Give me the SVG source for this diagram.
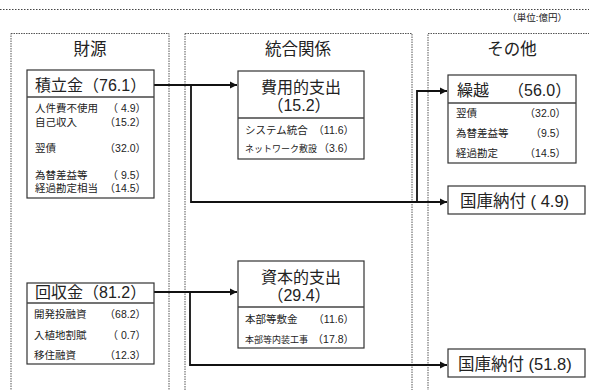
<svg xmlns="http://www.w3.org/2000/svg" width="589" height="390" viewBox="0 0 589 390">
<defs>
<style>
text{font-family:"Liberation Sans","Noto Sans CJK JP",sans-serif;fill:#222}
.col{fill:none;stroke:#555;stroke-width:1;stroke-dasharray:1.5 1}
.box{fill:#fff;stroke:#333;stroke-width:1.2}
.div{stroke:#444;stroke-width:1.5}
.hd{font-size:16.5px;text-anchor:middle}
.tt{font-size:16px}
.kk{font-size:16.5px}
.it{font-size:10.5px}
.sm{font-size:9px}
.v{text-anchor:end}
.c{text-anchor:middle}
.con{fill:none;stroke:#111;stroke-width:1.8}
</style>
<marker id="ah" markerUnits="userSpaceOnUse" markerWidth="8" markerHeight="8" refX="7" refY="4" orient="auto">
<path d="M0,0.5 L7,4 L0,7.5 Z" fill="#111"/>
</marker>
</defs>
<rect width="589" height="390" fill="#fff"/>
<line x1="0" y1="9.5" x2="589" y2="9.5" stroke="#444" stroke-width="1.2" stroke-dasharray="1.5 1.5"/>
<text x="567" y="21" class="it v" style="font-size:9.5px">（単位:億円）</text>

<g id="columns">
<rect class="col" x="11" y="33.5" width="158" height="370"/>
<rect class="col" x="185" y="33.5" width="227" height="370"/>
<rect class="col" x="428" y="33.5" width="180" height="370"/>
<text x="90" y="55" class="hd">財源</text>
<text x="298" y="55" class="hd">統合関係</text>
<text x="512" y="55" class="hd">その他</text>
</g>

<g id="connectors">
<path class="con" d="M154,85 H237" marker-end="url(#ah)"/>
<path class="con" d="M191,85 V202 H447" marker-end="url(#ah)"/>
<path class="con" d="M417,202 V91 H447" marker-end="url(#ah)"/>
<path class="con" d="M154,292 H237" marker-end="url(#ah)"/>
<path class="con" d="M190,292 V365 H447" marker-end="url(#ah)"/>
</g>

<g id="tsumitatekin">
<rect class="box" x="27" y="70" width="127" height="128"/>
<line class="div" x1="27" y1="97" x2="154" y2="97"/>
<text x="35" y="91" class="tt">積立金（76.1）</text>
<text x="35" y="112" class="it">人件費不使用</text><text x="146" y="112" class="it v">（ 4.9）</text>
<text x="35" y="126" class="it">自己収入</text><text x="146" y="126" class="it v">（15.2）</text>
<text x="35" y="152" class="it">翌債</text><text x="146" y="152" class="it v">（32.0）</text>
<text x="35" y="179" class="it">為替差益等</text><text x="146" y="179" class="it v">（ 9.5）</text>
<text x="35" y="192" class="it">経過勘定相当</text><text x="146" y="192" class="it v">（14.5）</text>
</g>

<g id="kaishukin">
<rect class="box" x="27" y="283" width="127" height="81"/>
<line class="div" x1="27" y1="303" x2="154" y2="303"/>
<text x="35" y="298" class="tt">回収金（81.2）</text>
<text x="34" y="318" class="it">開発投融資</text><text x="146" y="318" class="it v">（68.2）</text>
<text x="34" y="339" class="it">入植地割賦</text><text x="146" y="339" class="it v">（ 0.7）</text>
<text x="34" y="359" class="it">移住融資</text><text x="146" y="359" class="it v">（12.3）</text>
</g>

<g id="hiyouteki">
<rect class="box" x="238" y="71" width="126" height="88"/>
<line class="div" x1="238" y1="118" x2="364" y2="118"/>
<text x="301" y="93" class="tt c">費用的支出</text>
<text x="299" y="111" class="tt c">（15.2）</text>
<text x="245" y="134" class="it">システム統合</text><text x="354" y="134" class="it v">（11.6）</text>
<text x="245" y="152" class="sm">ネットワーク敷設</text><text x="354" y="152" class="it v">（3.6）</text>
</g>

<g id="shihonteki">
<rect class="box" x="238" y="261" width="126" height="87"/>
<line class="div" x1="238" y1="307" x2="364" y2="307"/>
<text x="301" y="283" class="tt c">資本的支出</text>
<text x="299" y="301" class="tt c">（29.4）</text>
<text x="245" y="323" class="it">本部等敷金</text><text x="354" y="323" class="it v">（11.6）</text>
<text x="245" y="343" class="sm">本部等内装工事</text><text x="354" y="343" class="it v">（17.8）</text>
</g>

<g id="kurikoshi">
<rect class="box" x="448" y="75" width="128" height="88"/>
<line class="div" x1="448" y1="103" x2="576" y2="103"/>
<text class="tt" y="96"><tspan x="457">繰越</tspan><tspan x="508">（56.0）</tspan></text>
<text x="456" y="117" class="it">翌債</text><text x="566" y="117" class="it v">（32.0）</text>
<text x="456" y="137" class="it">為替差益等</text><text x="566" y="137" class="it v">（9.5）</text>
<text x="456" y="157" class="it">経過勘定</text><text x="566" y="157" class="it v">（14.5）</text>
</g>

<g id="kokko1">
<rect class="box" x="448" y="186" width="137" height="28"/>
<text x="460" y="207" class="kk">国庫納付 ( 4.9)</text>
</g>

<g id="kokko2">
<rect class="box" x="448" y="349" width="137" height="28"/>
<text x="458" y="370" class="kk">国庫納付 (51.8)</text>
</g>
</svg>
